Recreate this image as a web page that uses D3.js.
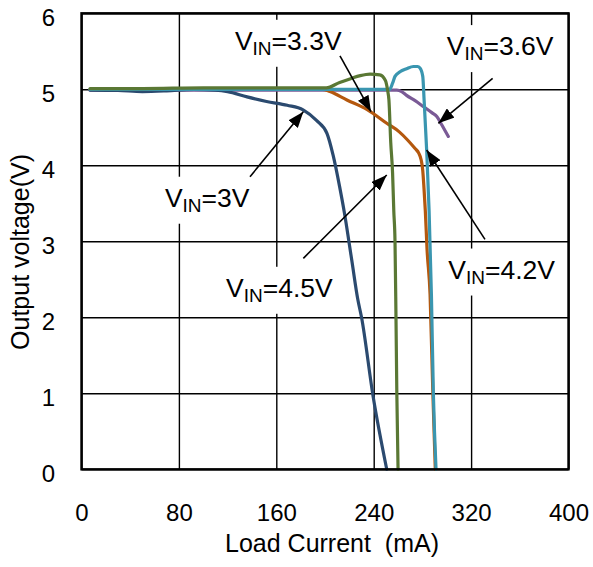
<!DOCTYPE html>
<html>
<head>
<meta charset="utf-8">
<script src="https://cdn.jsdelivr.net/npm/d3@7"></script>
<style>
  body { margin: 0; background: #fff; }
  text { font-family: Arial, "Liberation Sans", sans-serif; fill: #000; }
</style>
</head>
<body>
<div id="chart"></div>
<script>
// tick values
var xTicks = [0, 80, 160, 240, 320, 400];
var yTicks = [0, 1, 2, 3, 4, 5, 6];

// load current (mA), output voltage (V)
var vin3V = [[7, 4.99], [30, 4.985], [50, 4.97], [70, 4.98], [92, 5.0], [110, 4.99], [120, 4.97],
  [136, 4.90], [152, 4.84], [169, 4.79], [182, 4.73], [193, 4.59], [201.6, 4.42], [206.7, 4.13],
  [212, 3.72], [216, 3.37], [222, 2.75], [227, 2.23], [230, 2.0], [239.5, 0.96], [250.7, 0]];

var vin33V = [[7, 5.0], [100, 5.0], [198, 5.0], [204, 4.97], [218, 4.86], [235, 4.73], [251, 4.55],
  [261, 4.44], [268, 4.33], [274, 4.22], [277, 4.16], [279, 4.07], [280.3, 3.93], [281.3, 3.7],
  [282.4, 3.4], [283.8, 2.9], [286.3, 2.3], [288.6, 1.0], [290.6, 0]];

var vin36V = [[7, 4.99], [100, 4.99], [255, 4.99], [259, 4.99], [263, 4.97], [267, 4.92], [274, 4.85],
  [281, 4.77], [288, 4.69], [292, 4.64], [296, 4.53], [301.3, 4.38]];

var vin42V = [[7, 5.0], [100, 5.0], [253, 5.0], [255.5, 5.08], [257.5, 5.17], [261.6, 5.23], [267, 5.27],
  [272.6, 5.30], [276, 5.30], [278, 5.28], [280.3, 5.17], [281.4, 4.86], [283.5, 4.2],
  [285.5, 3.4], [287.4, 2.3], [289, 1.0], [291.2, 0]];

var vin45V = [[7, 5.01], [50, 5.01], [100, 5.02], [150, 5.02], [201, 5.02], [212, 5.09], [221, 5.14],
  [229, 5.18], [237, 5.2], [245, 5.19], [249.5, 5.12], [251.5, 4.98], [252.5, 4.86], [254, 4.3],
  [255.5, 3.9], [256.5, 3.4], [257.5, 3.0], [258.3, 2.0], [259, 1.0], [260, 0]];

var svgWidth = 593;
var svgHeight = 567;

var margin = { top: 13.3, right: 24.5, bottom: 97.7, left: 81.5 };
var chartWidth = svgWidth - margin.left - margin.right;
var chartHeight = svgHeight - margin.top - margin.bottom;

var svg = d3.select("#chart")
  .append("svg")
  .attr("width", svgWidth)
  .attr("height", svgHeight);

svg.append("defs").append("marker")
  .attr("id", "head")
  .attr("markerUnits", "userSpaceOnUse")
  .attr("viewBox", "0 0 16 12")
  .attr("refX", 16)
  .attr("refY", 6)
  .attr("markerWidth", 16)
  .attr("markerHeight", 12)
  .attr("orient", "auto")
  .append("path")
  .attr("d", "M0,0 L16,6 L0,12 Z")
  .attr("fill", "#000");

var chartGroup = svg.append("g")
  .attr("transform", `translate(${margin.left}, ${margin.top})`);

var xScale = d3.scaleLinear().domain([0, 400]).range([0, chartWidth]);
var yScale = d3.scaleLinear().domain([0, 6]).range([chartHeight, 0]);

// grid + tick labels
var bottomAxis = d3.axisBottom(xScale).tickValues(xTicks).tickFormat(d3.format("d"))
  .tickSize(-chartHeight).tickPadding(35);
var leftAxis = d3.axisLeft(yScale).tickValues(yTicks).tickFormat(d3.format("d"))
  .tickSize(-chartWidth).tickPadding(26.5);

var xAxisG = chartGroup.append("g")
  .attr("transform", `translate(0, ${chartHeight})`)
  .call(bottomAxis);
var yAxisG = chartGroup.append("g").call(leftAxis);

[xAxisG, yAxisG].forEach(g => {
  g.select(".domain").remove();
  g.selectAll(".tick line").attr("stroke", "#000").attr("stroke-width", 1.4);
  g.selectAll(".tick text")
    .style("font-size", "24px")
    .style("font-family", "Arial, 'Liberation Sans', sans-serif")
    .attr("fill", "#000");
});
yAxisG.selectAll(".tick text").attr("dy", "0.5em");

// labels for each curve (position in data units)
var labels = [
  { v: "3.3V", x: 126, y: 5.52, from: [212.3, 5.44], to: [237.8, 4.705] },
  { v: "3.6V", x: 300, y: 5.45, from: [337.7, 5.145], to: [293.1, 4.553] },
  { v: "3V", x: 68.5, y: 3.455, from: [138.4, 3.85], to: [182.2, 4.705] },
  { v: "4.5V", x: 118.7, y: 2.27, from: [182.2, 2.776], to: [250.7, 3.872] },
  { v: "4.2V", x: 301.3, y: 2.51, from: [331.4, 3.026], to: [283.5, 4.201] }
];

var boxLayer = chartGroup.append("g");
var curveLayer = chartGroup.append("g");
var arrowLayer = chartGroup.append("g");
var textLayer = chartGroup.append("g");

labels.forEach(d => {
  var t = textLayer.append("text")
    .attr("x", xScale(d.x))
    .attr("y", yScale(d.y))
    .style("font-size", "26.5px");
  t.append("tspan").text("V");
  t.append("tspan").attr("dy", 5).style("font-size", "19px").text("IN");
  t.append("tspan").attr("dy", -5).text("=" + d.v);
  var b = t.node().getBBox();
  boxLayer.append("rect")
    .attr("x", b.x - 7)
    .attr("y", yScale(d.y) - 30)
    .attr("width", b.width + 14)
    .attr("height", 47)
    .attr("fill", "#fff");
  arrowLayer.append("line")
    .attr("x1", xScale(d.from[0]))
    .attr("y1", yScale(d.from[1]))
    .attr("x2", xScale(d.to[0]))
    .attr("y2", yScale(d.to[1]))
    .attr("stroke", "#000")
    .attr("stroke-width", 1.6)
    .attr("marker-end", "url(#head)");
});

var series = [
  { data: vin36V, color: "#7a5a96" },
  { data: vin33V, color: "#b4580e" },
  { data: vin3V, color: "#2b4a6f" },
  { data: vin42V, color: "#3a96b0" },
  { data: vin45V, color: "#5a7834" }
];

var line = d3.line()
  .x(d => xScale(d[0]))
  .y(d => yScale(d[1]))
  .curve(d3.curveMonotoneX);

curveLayer.selectAll("path")
  .data(series)
  .enter()
  .append("path")
  .attr("d", d => line(d.data))
  .attr("fill", "none")
  .attr("stroke", d => d.color)
  .attr("stroke-width", 3.2)
  .attr("stroke-linejoin", "round")
  .attr("stroke-linecap", "round");

// frame
chartGroup.append("rect")
  .attr("width", chartWidth)
  .attr("height", chartHeight)
  .attr("fill", "none")
  .attr("stroke", "#000")
  .attr("stroke-width", 2.4);

// axis titles
svg.append("text")
  .attr("x", 332)
  .attr("y", 551.7)
  .attr("text-anchor", "middle")
  .style("font-size", "25px")
  .text("Load Current\u00a0 (mA)");

svg.append("text")
  .attr("transform", "translate(29, 252) rotate(-90)")
  .attr("text-anchor", "middle")
  .style("font-size", "25px")
  .text("Output voltage(V)");
</script>
</body>
</html>
